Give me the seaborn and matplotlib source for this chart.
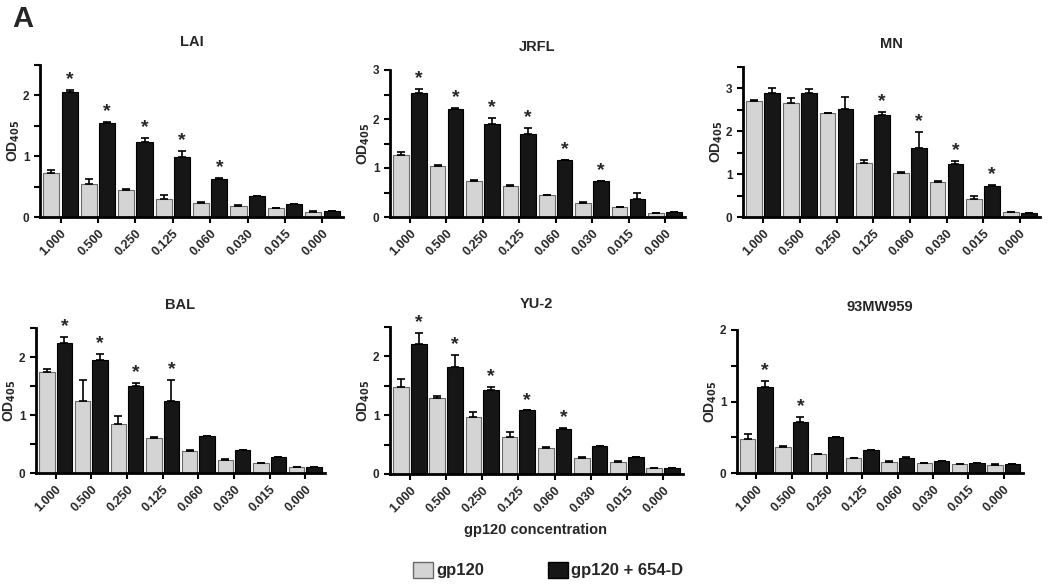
import matplotlib
matplotlib.use('Agg')
import matplotlib.pyplot as plt
import seaborn as sns
import numpy as np
import pandas as pd
from matplotlib.patches import Patch

concentrations = ['1.000', '0.500', '0.250', '0.125', '0.060', '0.030', '0.015', '0.000']
groups = ['gp120', 'gp120 + 654-D']
colors = {'gp120': '#d4d4d4', 'gp120 + 654-D': '#161616'}

# each strain: gray means/err, black means/err, bars marked with a star
lai_gray = [0.72, 0.55, 0.44, 0.30, 0.23, 0.175, 0.14, 0.09]
lai_gray_err = [0.05, 0.07, 0.02, 0.06, 0.01, 0.02, 0.01, 0.01]
lai_black = [2.06, 1.55, 1.24, 0.98, 0.63, 0.34, 0.22, 0.10]
lai_black_err = [0.03, 0.01, 0.06, 0.10, 0.01, 0.0, 0.0, 0.0]
lai_stars = [0, 1, 2, 3, 4]

jrfl_gray = [1.27, 1.04, 0.74, 0.63, 0.44, 0.29, 0.20, 0.08]
jrfl_gray_err = [0.05, 0.03, 0.01, 0.02, 0.01, 0.02, 0.01, 0.01]
jrfl_black = [2.54, 2.21, 1.90, 1.69, 1.16, 0.74, 0.36, 0.10]
jrfl_black_err = [0.08, 0.01, 0.13, 0.12, 0.0, 0.0, 0.14, 0.0]
jrfl_stars = [0, 1, 2, 3, 4, 5]

mn_gray = [2.71, 2.67, 2.42, 1.27, 1.02, 0.81, 0.43, 0.11]
mn_gray_err = [0.02, 0.10, 0.0, 0.06, 0.02, 0.03, 0.06, 0.01]
mn_black = [2.89, 2.89, 2.52, 2.38, 1.62, 1.23, 0.73, 0.10]
mn_black_err = [0.13, 0.09, 0.29, 0.07, 0.37, 0.07, 0.01, 0.0]
mn_stars = [3, 4, 5, 6]

bal_gray = [1.75, 1.24, 0.84, 0.61, 0.38, 0.23, 0.17, 0.10]
bal_gray_err = [0.04, 0.36, 0.14, 0.01, 0.01, 0.01, 0.01, 0.01]
bal_black = [2.25, 1.95, 1.50, 1.24, 0.64, 0.39, 0.27, 0.10]
bal_black_err = [0.10, 0.11, 0.05, 0.36, 0.0, 0.01, 0.0, 0.0]
bal_stars = [0, 1, 2, 3]

yu2_gray = [1.48, 1.30, 0.97, 0.63, 0.44, 0.28, 0.21, 0.10]
yu2_gray_err = [0.14, 0.03, 0.08, 0.08, 0.02, 0.01, 0.01, 0.01]
yu2_black = [2.21, 1.82, 1.43, 1.08, 0.77, 0.47, 0.29, 0.10]
yu2_black_err = [0.19, 0.21, 0.05, 0.0, 0.02, 0.0, 0.0, 0.0]
yu2_stars = [0, 1, 2, 3, 4]

mw_gray = [0.47, 0.36, 0.26, 0.21, 0.16, 0.135, 0.12, 0.11]
mw_gray_err = [0.08, 0.02, 0.0, 0.005, 0.005, 0.005, 0.0, 0.01]
mw_black = [1.20, 0.71, 0.50, 0.32, 0.21, 0.17, 0.14, 0.12]
mw_black_err = [0.09, 0.07, 0.0, 0.005, 0.02, 0.0, 0.005, 0.0]
mw_stars = [0, 1]

panels = [
    ('LAI', 2.5, lai_gray, lai_gray_err, lai_black, lai_black_err, lai_stars),
    ('JRFL', 3.0, jrfl_gray, jrfl_gray_err, jrfl_black, jrfl_black_err, jrfl_stars),
    ('MN', 3.5, mn_gray, mn_gray_err, mn_black, mn_black_err, mn_stars),
    ('BAL', 2.5, bal_gray, bal_gray_err, bal_black, bal_black_err, bal_stars),
    ('YU-2', 2.5, yu2_gray, yu2_gray_err, yu2_black, yu2_black_err, yu2_stars),
    ('93MW959', 2.0, mw_gray, mw_gray_err, mw_black, mw_black_err, mw_stars),
]

# axes boxes in pixels: left, right, top, bottom
boxes = [
    (40, 343, 65, 217), (390, 685, 70, 217), (743, 1040, 67, 217),
    (36, 325, 328, 473), (390, 683, 327, 474), (737, 1023, 330, 473),
]

sns.set_style('ticks')
plt.rcParams['font.family'] = ['Liberation Sans', 'DejaVu Sans']
plt.rcParams['font.weight'] = 'bold'

W, H = 1050, 588
fig = plt.figure(figsize=(W / 100, H / 100), dpi=100)

for (title, ymax, g, ge, b, be, stars), (l, r, t, bt) in zip(panels, boxes):
    ax = fig.add_axes([l / W, 1 - bt / H, (r - l) / W, (bt - t) / H])
    df = pd.DataFrame({
        'conc': concentrations * 2,
        'od': g + b,
        'group': [groups[0]] * 8 + [groups[1]] * 8,
    })
    sns.barplot(data=df, x='conc', y='od', hue='group', order=concentrations,
                hue_order=groups, palette=colors, errorbar=None, width=0.98,
                gap=0.12, ax=ax, legend=False)
    for cont, means, errs, ec in zip(ax.containers, [g, b], [ge, be], ['#6a6a6a', 'black']):
        xs = []
        for p in cont:
            p.set_edgecolor(ec)
            p.set_linewidth(0.8)
            xs.append(p.get_x() + p.get_width() / 2)
        ax.errorbar(xs, means, yerr=[np.zeros(8), errs], fmt='none',
                    ecolor='black', elinewidth=1.2, capsize=3, capthick=1.2)
        if ec == 'black':
            for i in stars:
                ax.text(xs[i], means[i] + errs[i] + ymax * 0.012, '*',
                        ha='center', va='bottom', fontsize=14)
    ax.set_xlim(-0.55, 7.55)
    ax.set_ylim(0, ymax)
    yt = np.arange(0, ymax + 0.01, 0.5)
    ax.set_yticks(yt)
    ax.set_yticklabels([f'{int(v)}' if v == int(v) else '' for v in yt],
                       fontsize=8.5, fontweight='bold')
    ax.set_xticks(range(8))
    ax.set_xticklabels(concentrations, rotation=45, ha='right',
                       rotation_mode='anchor', fontsize=9, fontweight='bold')
    ax.tick_params(axis='both', direction='out', length=4, width=1.5, color='black')
    ax.set_xlabel('')
    ax.set_ylabel('OD$_{405}$', fontsize=10, fontweight='bold', labelpad=1)
    ax.set_title(title, fontsize=10.5, fontweight='bold', pad=14)
    sns.despine(ax=ax)
    for s in ['left', 'bottom']:
        ax.spines[s].set_linewidth(2)
        ax.spines[s].set_color('black')

fig.text(12 / W, 1 - 19 / H, 'A', fontsize=21, fontweight='bold', va='center', ha='left')
fig.text(536 / W, 1 - 530 / H, 'gp120 concentration', fontsize=10.5,
         fontweight='bold', ha='center', va='center')

handles = [Patch(facecolor=colors[groups[0]], edgecolor='#6a6a6a'),
           Patch(facecolor=colors[groups[1]], edgecolor='black')]
fig.legend(handles, groups, loc='center', bbox_to_anchor=(548 / W, 1 - 570 / H),
           ncol=2, frameon=False, prop={'size': 12, 'weight': 'bold'},
           handlelength=1.2, handleheight=1.1, handletextpad=0.2, columnspacing=3.8)

fig.savefig('out.png', dpi=100)
